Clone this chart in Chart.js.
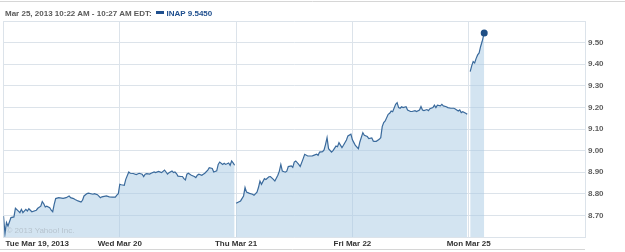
<!DOCTYPE html>
<html>
<head>
<meta charset="utf-8">
<script src="https://cdn.jsdelivr.net/npm/chart.js@4/dist/chart.umd.min.js"></script>
<style>
  html, body { margin: 0; padding: 0; background: #fff; }
  #wrap { position: relative; width: 625px; height: 252px; overflow: hidden; }
  #c { position: absolute; left: 0; top: 0; }
  #hdr { position: absolute; left: 5px; top: 8px; font: bold 8px "Liberation Sans", Arial, sans-serif; color: #5a5a5a; white-space: nowrap; line-height: 11px; }
  #hdr .sym { color: #1f4f8e; }
  #hdr .mk { display: inline-block; width: 8px; height: 3px; background: #1f4f8e; vertical-align: 2px; margin: 0 3px 0 4px; }
</style>
</head>
<body>
<div id="wrap">
  <canvas id="c" width="625" height="252"></canvas>
  <div id="hdr"></div>
</div>
<script>
// ---- data ----
const headerRange = 'Mar 25, 2013 10:22 AM - 10:27 AM EDT:';
const symbol = 'INAP';
const lastPrice = '9.5450';
const dayLabels = ['Tue Mar 19, 2013', 'Wed Mar 20', 'Thu Mar 21', 'Fri Mar 22', 'Mon Mar 25'];
const yTickLabels = ['8.70', '8.80', '8.90', '9.00', '9.10', '9.20', '9.30', '9.40', '9.50'];
const copyrightText = '\u00A9 2013 Yahoo! Inc.';

const tueTimes = ['09:30','09:35','09:40','09:45','09:55','10:05','10:10','10:20','10:25','10:30','10:35','10:45','10:50','10:55','11:05','11:20','11:25','11:35','11:40','11:45','11:50','11:55','12:05','12:10','12:15','12:20','12:25','12:35','12:50','13:00','13:10','13:15','13:25','13:30','13:40','13:50','13:55','14:00','14:10','14:15','14:30','14:35','14:45','14:55','15:00','15:15','15:25','15:35','15:45','15:50','15:55'];
const tuePrices = [8.697,8.616,8.667,8.651,8.690,8.693,8.733,8.720,8.713,8.728,8.713,8.728,8.720,8.731,8.717,8.724,8.733,8.743,8.764,8.754,8.739,8.743,8.736,8.724,8.717,8.751,8.778,8.782,8.779,8.782,8.790,8.782,8.778,8.774,8.767,8.762,8.770,8.790,8.801,8.803,8.798,8.801,8.796,8.782,8.786,8.790,8.786,8.785,8.785,8.794,8.800];

const wedTimes = ['09:30','09:35','09:45','09:50','10:00','10:05','10:15','10:25','10:35','10:45','10:50','10:55','11:00','11:10','11:15','11:25','11:30','11:40','11:50','12:00','12:05','12:10','12:15','12:25','12:30','12:35','12:40','12:45','12:55','13:00','13:05','13:10','13:15','13:20','13:30','13:40','13:45','13:50','13:55','14:05','14:10','14:15','14:25','14:30','14:40','14:45','14:55','15:00','15:05','15:15','15:20','15:25','15:35','15:40','15:45','15:50','15:55'];
const wedPrices = [8.844,8.842,8.839,8.867,8.901,8.895,8.894,8.889,8.895,8.891,8.880,8.891,8.893,8.891,8.895,8.901,8.898,8.904,8.898,8.910,8.901,8.891,8.898,8.906,8.898,8.901,8.894,8.882,8.880,8.880,8.870,8.864,8.891,8.895,8.886,8.880,8.875,8.886,8.891,8.886,8.891,8.895,8.910,8.921,8.917,8.901,8.906,8.936,8.947,8.936,8.941,8.936,8.943,8.932,8.952,8.943,8.932];

const thuTimes = ['09:30','09:35','09:45','09:55','10:00','10:05','10:15','10:25','10:30','10:40','10:45','10:50','10:55','11:05','11:10','11:20','11:25','11:35','11:40','11:50','11:55','12:00','12:05','12:15','12:20','12:25','12:35','12:40','12:45','12:50','13:00','13:05','13:15','13:20','13:30','13:35','13:45','13:50','14:00','14:05','14:10','14:20','14:25','14:30','14:35','14:40','14:50','14:55','15:05','15:10','15:15','15:25','15:30','15:40','15:45','15:55'];
const thuPrices = [8.756,8.760,8.767,8.790,8.829,8.808,8.802,8.798,8.793,8.808,8.829,8.859,8.844,8.870,8.866,8.879,8.880,8.867,8.859,8.886,8.905,8.936,8.905,8.900,8.905,8.926,8.929,8.922,8.947,8.952,8.936,8.926,8.963,8.983,8.975,8.975,8.975,8.978,8.983,8.978,8.993,8.995,9.003,9.029,9.060,9.009,8.993,9.000,9.021,9.018,9.037,9.014,9.025,9.049,9.068,9.076];

const friTimes = ['09:30','09:35','09:40','09:50','09:55','10:05','10:10','10:20','10:25','10:35','10:40','10:45','10:50','11:00','11:05','11:10','11:15','11:20','11:30','11:35','11:40','11:45','11:55','12:00','12:05','12:10','12:15','12:20','12:30','12:35','12:45','12:50','13:00','13:05','13:15','13:20','13:25','13:30','13:40','13:45','13:50','14:00','14:05','14:10','14:15','14:25','14:30','14:35','14:45','14:50','15:00','15:10','15:15','15:25','15:30','15:35','15:40','15:50','15:55'];
const friPrices = [9.050,9.037,9.024,9.009,9.040,9.083,9.071,9.065,9.056,9.059,9.044,9.043,9.043,9.052,9.060,9.111,9.130,9.137,9.168,9.173,9.183,9.180,9.214,9.222,9.199,9.196,9.203,9.199,9.203,9.188,9.181,9.181,9.185,9.181,9.188,9.204,9.188,9.185,9.190,9.185,9.194,9.199,9.210,9.199,9.210,9.207,9.214,9.207,9.203,9.199,9.196,9.196,9.193,9.183,9.188,9.176,9.180,9.173,9.168];

const monTimes = ['09:35','09:40','09:45','09:50','09:55','10:00','10:05','10:10','10:15','10:22'];
const monPrices = [9.366,9.392,9.412,9.406,9.427,9.443,9.452,9.482,9.505,9.545];

// which day starts a new (unconnected) line segment
const dayBreaks = [false, false, true, false, true];

// ---- build series ----
const SESSION = 390; // minutes per trading day
const OPEN = 9 * 60 + 30;
function mins(t) { const p = t.split(':'); return (+p[0]) * 60 + (+p[1]) - OPEN; }
const days = [[tueTimes, tuePrices], [wedTimes, wedPrices], [thuTimes, thuPrices], [friTimes, friPrices], [monTimes, monPrices]];
const points = [];
days.forEach(([times, prices], d) => {
  if (dayBreaks[d]) points.push({ x: d * SESSION - 0.5, y: null });
  times.forEach((t, i) => points.push({ x: d * SESSION + mins(t), y: prices[i] }));
});
const lastIndex = points.length - 1;

document.getElementById('hdr').innerHTML =
  headerRange + '<span class="mk"></span><span class="sym">' + symbol + ' ' + lastPrice + '</span>';

const gridColor = '#dce3ea';

const extras = {
  id: 'extras',
  afterDraw(chart) {
    const ctx = chart.ctx, xs = chart.scales.x, area = chart.chartArea;
    ctx.save();
    // outer frame lines
    ctx.strokeStyle = '#d6d6d6';
    ctx.lineWidth = 1;
    ctx.beginPath();
    ctx.moveTo(0, 1.5); ctx.lineTo(625, 1.5);
    ctx.moveTo(0, 249.5); ctx.lineTo(area.right, 249.5);
    ctx.stroke();
    // day labels
    ctx.fillStyle = '#333';
    ctx.font = 'bold 8px "Liberation Sans", Arial, sans-serif';
    ctx.textBaseline = 'middle';
    dayLabels.forEach((lab, i) => {
      const px = xs.getPixelForValue(i * SESSION);
      ctx.textAlign = i === 0 ? 'left' : 'center';
      ctx.fillText(lab, i === 0 ? px + 2 : px, 243.5);
    });
    // copyright
    ctx.fillStyle = '#b7c4cf';
    ctx.font = '8px "Liberation Sans", Arial, sans-serif';
    ctx.textAlign = 'left';
    ctx.fillText(copyrightText, area.left + 3, 231);
    ctx.restore();
  }
};

new Chart(document.getElementById('c'), {
  type: 'line',
  data: {
    datasets: [{
      data: points,
      borderColor: '#3a6a9c',
      borderWidth: 1.2,
      backgroundColor: 'rgba(168,202,228,0.5)',
      fill: 'start',
      spanGaps: false,
      tension: 0,
      pointRadius: ctx => ctx.dataIndex === lastIndex ? 3.5 : 0,
      pointBackgroundColor: '#1f4f85',
      pointBorderColor: '#1f4f85',
      pointBorderWidth: 0,
      pointHoverRadius: 0
    }]
  },
  options: {
    responsive: false,
    animation: false,
    events: [],
    layout: { padding: { top: 21, left: 3, right: 0, bottom: 15 } },
    plugins: { legend: { display: false }, tooltip: { enabled: false }, title: { display: false } },
    scales: {
      x: {
        type: 'linear',
        min: 0,
        max: SESSION * dayLabels.length,
        afterBuildTicks: s => { s.ticks = dayLabels.map((_, i) => ({ value: i * SESSION })).concat([{ value: SESSION * dayLabels.length }]); },
        ticks: { display: false },
        grid: { color: gridColor, drawTicks: false, lineWidth: 1 },
        border: { color: gridColor }
      },
      y: {
        position: 'right',
        min: 8.6,
        max: 9.6,
        afterFit: s => { s.width = 40; },
        ticks: {
          stepSize: 0.1,
          padding: 3,
          color: '#5f5f5f',
          font: { family: '"Liberation Sans", Arial, sans-serif', size: 8, weight: 'bold' },
          callback: v => { const s = Number(v).toFixed(2); return yTickLabels.includes(s) ? s : ''; }
        },
        grid: { color: gridColor, drawTicks: false, lineWidth: 1 },
        border: { color: gridColor }
      }
    }
  },
  plugins: [extras]
});
</script>
</body>
</html>
